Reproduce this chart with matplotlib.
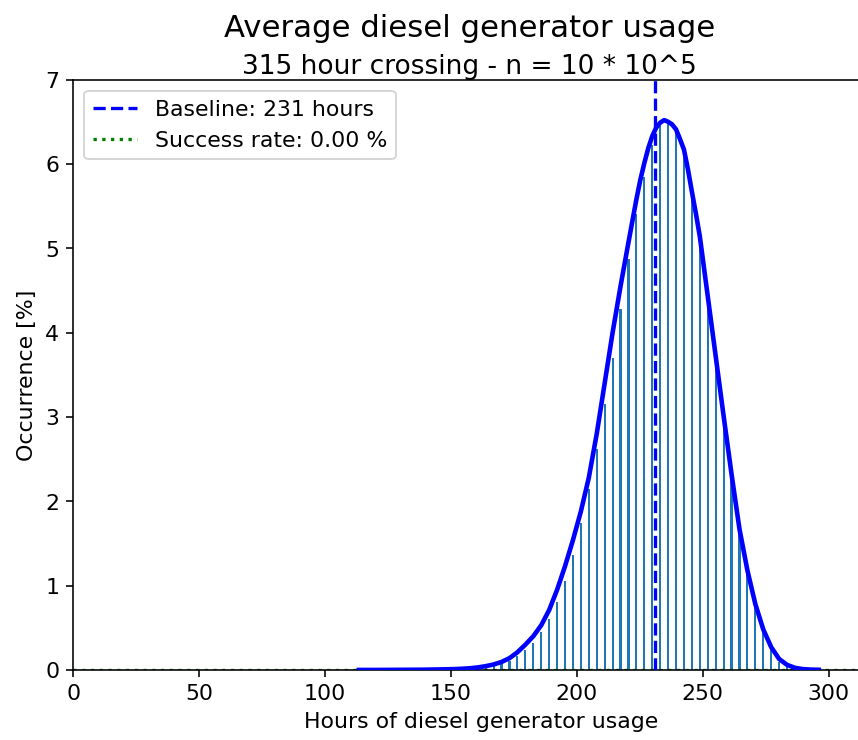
import matplotlib
matplotlib.use("Agg")
import matplotlib.pyplot as plt

# Histogram of simulated generator hours (values sit on 3.15 h steps)
hours = [113.4, 116.55, 119.7, 122.85, 126.0, 129.15, 132.3, 135.45, 138.6, 141.75,
         144.9, 148.05, 151.2, 154.35, 157.5, 160.65, 163.8, 166.95, 170.1, 173.25,
         176.4, 179.55, 182.7, 185.85, 189.0, 192.15, 195.3, 198.45, 201.6, 204.75,
         207.9, 211.05, 214.2, 217.35, 220.5, 223.65, 226.8, 229.95, 233.1, 236.25,
         239.4, 242.55, 245.7, 248.85, 252.0, 255.15, 258.3, 261.45, 264.6, 267.75,
         270.9, 274.05, 277.2, 280.35, 283.5, 286.65, 289.8, 292.95, 296.1]

occurrence = [0.0002, 0.0002, 0.0003, 0.0004, 0.0006, 0.0008, 0.001, 0.0015, 0.002, 0.003,
              0.004, 0.005, 0.006, 0.009, 0.013, 0.019, 0.028, 0.042, 0.07, 0.11,
              0.17, 0.24, 0.32, 0.45, 0.60, 0.81, 1.06, 1.36, 1.74, 2.14,
              2.62, 3.15, 3.70, 4.28, 4.87, 5.41, 5.84, 6.22, 6.45, 6.48,
              6.38, 6.14, 5.64, 5.12, 4.45, 3.72, 3.01, 2.32, 1.67, 1.18,
              0.78, 0.48, 0.25, 0.10, 0.04, 0.015, 0.005, 0.002, 0.001]

# fitted distribution curve
curve_hours = [113.4, 119.7, 126.0, 132.3, 138.6, 144.9, 151.2, 154.35, 157.5, 160.65,
               163.8, 166.95, 170.1, 173.25, 176.4, 179.55, 182.7, 185.85, 189.0, 192.15,
               195.3, 198.45, 201.6, 204.75, 207.9, 211.05, 214.2, 217.35, 220.5, 222.1,
               223.65, 225.2, 226.8, 228.4, 229.95, 231.5, 233.1, 234.7, 236.25, 237.8,
               239.4, 240.9, 242.55, 244.1, 245.7, 247.3, 248.85, 252.0, 255.15, 258.3,
               261.45, 264.6, 267.75, 270.9, 274.05, 277.2, 280.35, 283.5, 286.65, 289.8,
               292.95, 296.1]
curve_values = [0.0, 0.0, 0.001, 0.002, 0.003, 0.006, 0.010, 0.014, 0.020, 0.030,
                0.045, 0.065, 0.095, 0.14, 0.21, 0.30, 0.40, 0.53, 0.71, 0.95,
                1.23, 1.54, 1.88, 2.28, 2.80, 3.40, 4.00, 4.55, 5.07, 5.33,
                5.58, 5.81, 6.01, 6.19, 6.33, 6.43, 6.49, 6.52, 6.50, 6.47,
                6.41, 6.30, 6.17, 5.94, 5.67, 5.41, 5.14, 4.43, 3.72, 3.01,
                2.32, 1.67, 1.18, 0.78, 0.48, 0.27, 0.13, 0.06, 0.025, 0.01,
                0.004, 0.002]

baseline = 231
crossing = 315
success_rate = 0.00

fig = plt.figure(figsize=(858.4 / 144, 740.4 / 144), dpi=144)
# axes run slightly past the right edge, as in the reference crop
ax_left, ax_width = 0.0854, 0.9239
ax = fig.add_axes([ax_left, 0.0946, 0.95, 0.7973])
ax.spines["right"].set_visible(False)

ax.bar(hours, occurrence, width=0.85, color="C0", linewidth=0, zorder=1)
ax.plot(curve_hours, curve_values, color="b", linewidth=2.3, zorder=3)
ax.axvline(baseline, color="b", linestyle="--", linewidth=1.65, zorder=4,
           label="Baseline: %d hours" % baseline)
ax.plot([0, crossing], [0, 0], "g:", linewidth=1.65, zorder=2,
        label="Success rate: %.2f %%" % success_rate)

ax.set_xlim(0, crossing * 0.95 / ax_width)
ax.set_ylim(0, 7)
ax.set_xticks([0, 50, 100, 150, 200, 250, 300])
ax.set_yticks(range(0, 8))
ax.tick_params(labelsize=11)
ax.set_xlabel("Hours of diesel generator usage", fontsize=11)
ax.set_ylabel("Occurrence [%]", fontsize=11)
ax.legend(loc="upper left", fontsize=11)

xc = ax_left + ax_width / 2
fig.text(xc, 1 - 36.7 / 740, "Average diesel generator usage", fontsize=15.4,
         ha="center", va="baseline")
fig.text(xc, 1 - 74 / 740, "315 hour crossing - n = 10 * 10^5", fontsize=13.2,
         ha="center", va="baseline")

fig.savefig("out.png", dpi=144)
